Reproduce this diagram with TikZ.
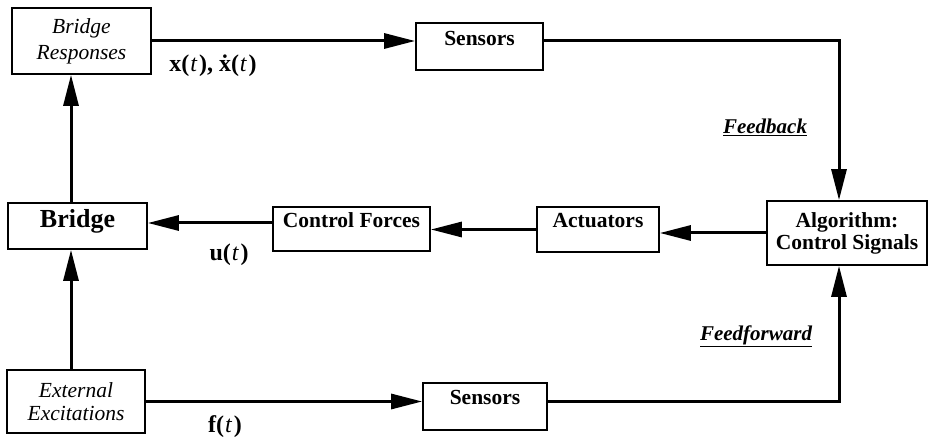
\documentclass[tikz,border=0pt]{standalone}
\usepackage{fontspec}
\setmainfont{Liberation Serif}
\usetikzlibrary{arrows.meta}
\newcommand{\tvar}{(\kern1pt{\mdseries\itshape t}\kern2pt)}
\begin{document}
\begin{tikzpicture}[x=1pt,y=-1pt,
  box/.style={draw,line width=1.7pt,inner xsep=0pt,inner ysep=0pt,align=center},
  bbox/.style={box,font=\fontsize{21.5}{22}\selectfont\bfseries},
  ibox/.style={box,font=\fontsize{21.5}{26}\selectfont\itshape},
  lbl/.style={font=\fontsize{24}{26}\selectfont\bfseries},
  note/.style={font=\fontsize{21}{24}\selectfont\bfseries\itshape},
  flow/.style={line width=3pt,-{Triangle[length=31pt,width=15pt]}}]
\useasboundingbox (0,0) rectangle (929,438);
% boxes
\node[ibox,minimum width=139pt,minimum height=66pt] (resp) at (81.5,41) {Bridge\\Responses};
\node[bbox,minimum width=127pt,text height=23pt,text depth=24pt] (sen1) at (479.5,46.5) {Sensors};
\node[bbox,minimum width=160pt,minimum height=64pt] (alg) at (847,233) {Algorithm:\\Control Signals};
\node[bbox,minimum width=122pt,text height=21pt,text depth=24pt] (act) at (598,229.5) {Actuators};
\node[bbox,minimum width=157pt,text height=21pt,text depth=23pt] (frc) at (351.5,229) {Control Forces};
\node[bbox,font=\fontsize{26}{27}\selectfont\bfseries,minimum width=139pt,text height=25pt,text depth=21pt] (brg) at (77.5,226) {Bridge};
\node[ibox,font=\fontsize{21.5}{23}\selectfont\itshape,minimum width=138pt,minimum height=63pt] (exc) at (76,401.5) {External\\Excitations};
\node[bbox,minimum width=124pt,text height=21pt,text depth=26pt] (sen2) at (485,406.5) {Sensors};
% signals
\draw[flow] (resp.east) -- (resp.east -| sen1.west);
\draw[flow] (resp.east -| sen1.east) -| ([xshift=-8pt]alg.north);
\draw[flow] (alg.west) -- (alg.west -| act.east);
\draw[flow] (act.west) -- (act.west -| frc.east);
\draw[flow] ([yshift=6pt]frc.west) -- ([yshift=6pt]frc.west -| brg.east);
\draw[flow] ([xshift=-6.5pt]brg.north) -- ([xshift=-6.5pt]brg.north |- resp.south);
\draw[flow] ([xshift=-5pt]exc.north) -- ([xshift=-5pt]exc.north |- brg.south);
\draw[flow] (exc.east) -- (exc.east -| sen2.west);
\draw[flow] (exc.east -| sen2.east) -| ([xshift=-8pt]alg.south);
% labels
\node[lbl] (xl) at (213,66) {x\tvar, ẋ\tvar};
\node[lbl] (ul) at (229,255) {u\tvar};
\node[lbl] (fl) at (225,427) {f\tvar};
\node[note] (fb) at (765,127) {\underline{Feedback}};
\node[note] (ff) at (756,336) {\underline{Feedforward}};
\end{tikzpicture}
\end{document}
